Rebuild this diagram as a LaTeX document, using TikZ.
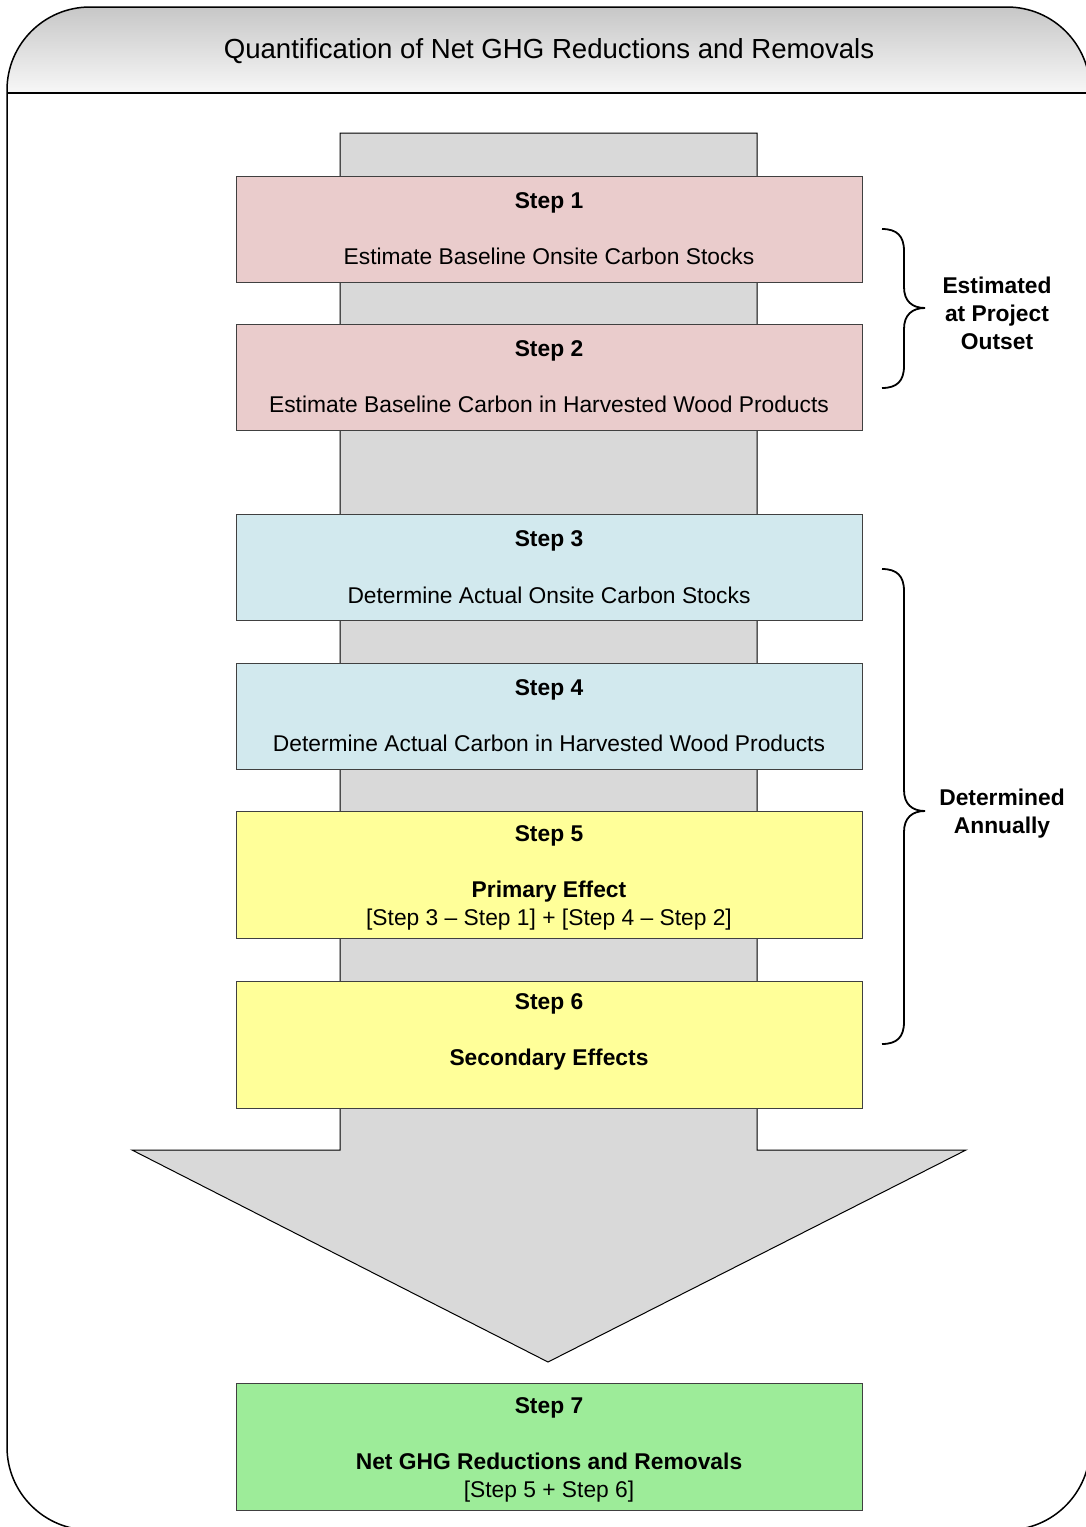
\documentclass[tikz,border=0pt]{standalone}
\usepackage{fontspec}
\setmainfont{Liberation Sans}
\definecolor{pinkbox}{RGB}{234,204,204}
\definecolor{bluebox}{RGB}{210,233,238}
\definecolor{yellowbox}{RGB}{255,255,153}
\definecolor{greenbox}{RGB}{157,236,153}
\definecolor{arrowgray}{RGB}{217,217,217}
\begin{document}
\begin{tikzpicture}[x=1pt,y=-1pt,
  stepbox/.style={draw=black!75, line width=0.9pt, minimum width=626pt, minimum height=106pt,
    align=center, inner sep=0pt, font=\fontsize{22.8}{28}\selectfont},
  tallbox/.style={stepbox, minimum height=127pt},
  sidelabel/.style={align=center, inner sep=0pt, font=\fontsize{22.8}{28}\selectfont\bfseries},
  bracepath/.style={draw=black, line width=1.8pt}]
\useasboundingbox (0,0) rectangle (1086,1527);
% header
\shade[top color=black!22, bottom color=black!3]
  (7,93) [rounded corners=83pt] -- (7,7) -- (1090,7) [sharp corners] -- (1090,93) -- cycle;
\draw[line width=1.5pt, rounded corners=83pt] (7,7) rectangle (1090,1530);
\draw[line width=1.5pt] (7,93) -- (1090,93);
\node[font=\fontsize{27.6}{33}\selectfont] (title) at (549,51) {Quantification of Net GHG Reductions and Removals};
% big arrow
\draw[fill=arrowgray, draw=black, line width=1pt]
  (340,133) -- (757,133) -- (757,1150) -- (966,1150) -- (548,1362) -- (132,1150) -- (340,1150) -- cycle;
% steps
\node[stepbox, fill=pinkbox] (s1) at (549,229) {\textbf{Step 1}\\[28pt]Estimate Baseline Onsite Carbon Stocks};
\node[stepbox, fill=pinkbox] (s2) at (549,377) {\textbf{Step 2}\\[28pt]Estimate Baseline Carbon in Harvested Wood Products};
\node[stepbox, fill=bluebox] (s3) at (549,567.5) {\textbf{Step 3}\\[29pt]Determine Actual Onsite Carbon Stocks};
\node[stepbox, fill=bluebox] (s4) at (549,716) {\textbf{Step 4}\\[28pt]Determine Actual Carbon in Harvested Wood Products};
\node[tallbox, fill=yellowbox] (s5) at (549,874.5) {\rule{0pt}{22pt}\textbf{Step 5}\\[28pt]\textbf{Primary Effect}\\{}[Step 3 – Step 1] + [Step 4 – Step 2]};
\node[tallbox, fill=yellowbox] (s6) at (549,1044.5) {\rule{0pt}{22pt}\textbf{Step 6}\\[28pt]\textbf{Secondary Effects}\\\strut};
\node[tallbox, fill=greenbox] (s7) at (549,1447) {\rule{0pt}{22pt}\textbf{Step 7}\\[28pt]\textbf{Net GHG Reductions and Removals}\\{}[Step 5 + Step 6]};
% braces
\draw[bracepath] (882,229) .. controls (897,229) and (904,236) .. (904,251) -- (904,287)
  .. controls (904,301) and (912,308) .. (925,308)
  .. controls (912,308) and (904,315) .. (904,329) -- (904,366)
  .. controls (904,381) and (897,388) .. (882,388);
\draw[bracepath] (882,569) .. controls (897,569) and (904,576) .. (904,591) -- (904,790)
  .. controls (904,804) and (912,811) .. (925,811)
  .. controls (912,811) and (904,818) .. (904,832) -- (904,1022)
  .. controls (904,1037) and (897,1044) .. (882,1044);
\node[sidelabel] (l1) at (997,313) {Estimated\\at Project\\Outset};
\node[sidelabel] (l2) at (1002,814) {Determined\\Annually};
\end{tikzpicture}
\end{document}
